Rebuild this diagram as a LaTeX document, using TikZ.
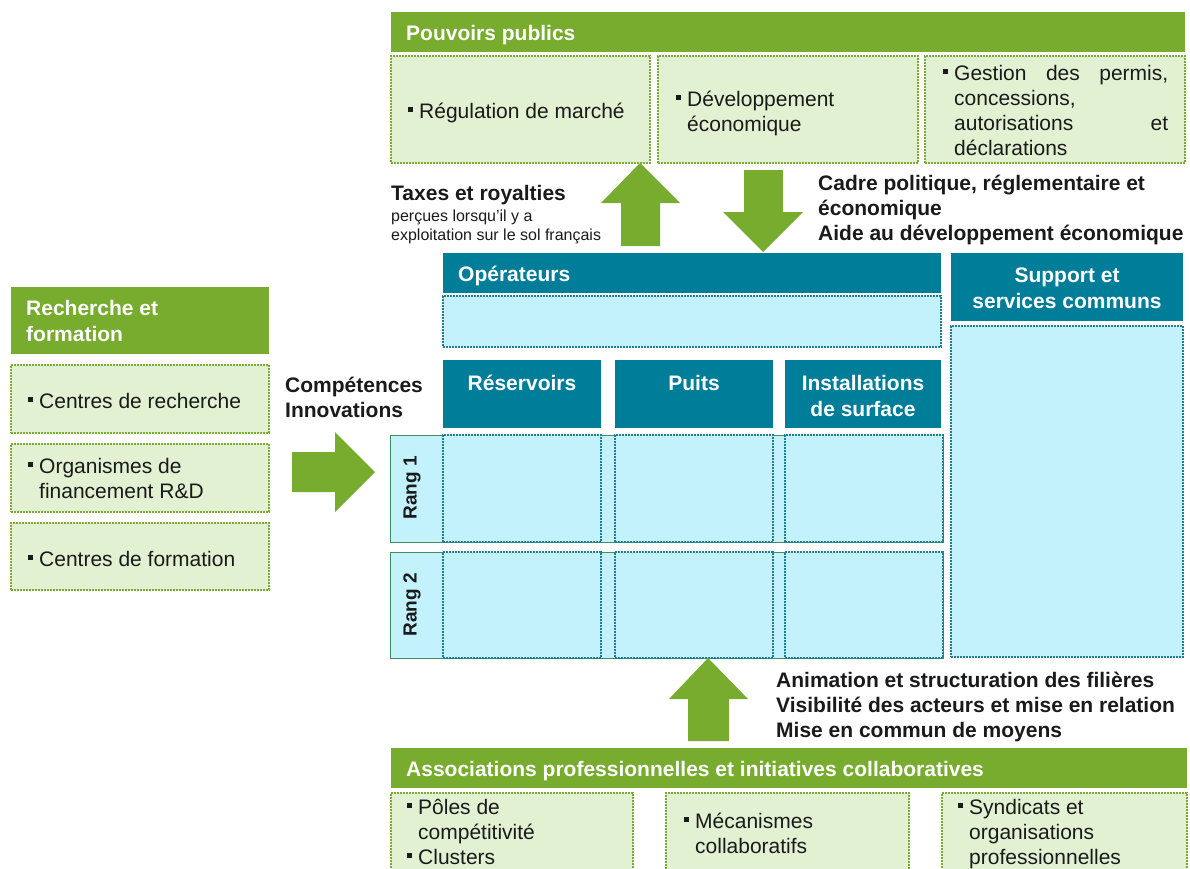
\documentclass[tikz,border=0pt]{standalone}
\usepackage{fontspec}
\setmainfont{Liberation Sans}
\definecolor{pgreen}{HTML}{77AC2F}
\definecolor{lgreen}{HTML}{E3F1D3}
\definecolor{pteal}{HTML}{007D99}
\definecolor{lcyan}{HTML}{C3F2FD}
\definecolor{dteal}{HTML}{1F7E96}
\definecolor{rgreen}{HTML}{3F8F66}
\definecolor{ink}{HTML}{1A1A1A}
\newcommand\bul{\rule[6pt]{5pt}{5pt}}
\newcommand\bt{\llap{\bul\hspace{6pt}}}
\newcommand\mlines[1]{\begin{tabular}[t]{@{}l@{}}#1\end{tabular}}
\newcommand\clines[1]{\begin{tabular}[t]{@{}c@{}}#1\end{tabular}}
\newcommand\rbox[6]{\node[#1, anchor=north west, minimum width=#4pt, minimum height=#5pt] (#6) at (#2,#3) {};}
\tikzset{
  base/.style={rectangle, inner sep=0pt, outer sep=0pt},
  greenhead/.style={base, fill=pgreen},
  greenbox/.style={base, fill=lgreen, draw=pgreen, line width=1.6pt, dash pattern=on 1.6pt off 1.4pt},
  tealhead/.style={base, fill=pteal},
  cyanbox/.style={base, fill=lcyan, draw=dteal, line width=1.6pt, dash pattern=on 1.6pt off 1.4pt},
  rangrow/.style={base, fill=lcyan, draw=rgreen, line width=1pt},
  body/.style={inner sep=0pt, text=ink, font=\fontsize{21}{25}\selectfont},
  bodyb/.style={inner sep=0pt, text=ink, font=\bfseries\fontsize{21}{25}\selectfont},
  small/.style={inner sep=0pt, text=ink, font=\fontsize{16}{19.5}\selectfont},
  headt/.style={inner sep=0pt, text=white, font=\bfseries\fontsize{21}{26}\selectfont},
  rangt/.style={inner sep=0pt, text=ink, font=\bfseries\fontsize{19}{19}\selectfont, rotate=90},
  blockarrow/.style={fill=pgreen, draw=none}
}
\begin{document}
\begin{tikzpicture}[x=1pt,y=-1pt]
\useasboundingbox (0,0) rectangle (1190,868);
\clip (0,0) rectangle (1190,868);
% Pouvoirs publics
\rbox{greenhead}{391}{12}{794}{40}{ppH}
\rbox{greenbox}{391}{56}{259}{107}{pp1}
\rbox{greenbox}{658}{56}{260}{107}{pp2}
\rbox{greenbox}{925}{56}{260}{107}{pp3}
\node[headt, anchor=base west] (ppHt) at (406,40) {Pouvoirs publics};
\node[body, anchor=base west] (pp1t) at (419,118) {\bt Régulation de marché};
\node[body, anchor=base west] (pp2t) at (687,106) {\mlines{\bt Développement\\économique}};
\node[body, anchor=base west] (pp3t) at (954,80) {\mlines{\bt\makebox[214pt][s]{Gestion des permis,}\\concessions,\\\makebox[214pt][s]{autorisations et}\\déclarations}};
% arrows top
\fill[blockarrow] (621,246) -- (621,203) -- (601,203) -- (640,163) -- (680,203) -- (660,203) -- (660,246) -- cycle;
\fill[blockarrow] (744,170) -- (783,170) -- (783,212) -- (803,212) -- (763,252) -- (723,212) -- (744,212) -- cycle;
\node[bodyb, anchor=base west] (taxt) at (391,200) {Taxes et royalties};
\node[small, anchor=base west] (taxs) at (391,221) {\mlines{perçues lorsqu'il y a\\exploitation sur le sol français}};
\node[bodyb, anchor=base west] (cadt) at (818,190) {\mlines{Cadre politique, réglementaire et\\économique\\Aide au développement économique}};
% Operateurs
\rbox{tealhead}{443}{253}{498}{40}{opH}
\rbox{cyanbox}{443}{296}{498}{51}{opB}
\node[headt, anchor=base west] (opHt) at (458,281) {Opérateurs};
\rbox{tealhead}{951}{253}{232}{68}{spH}
\rbox{cyanbox}{951}{326}{232}{331}{spB}
\node[headt, anchor=base] (spHt) at (1067,282) {\clines{Support et\\services communs}};
\rbox{tealhead}{443}{360}{158}{68}{c1H}
\rbox{tealhead}{615}{360}{158}{68}{c2H}
\rbox{tealhead}{785}{360}{156}{68}{c3H}
\node[headt, anchor=base] (c1t) at (522,390) {Réservoirs};
\node[headt, anchor=base] (c2t) at (694,390) {Puits};
\node[headt, anchor=base] (c3t) at (863,390) {\clines{Installations\\de surface}};
% rangs
\rbox{rangrow}{390}{435}{553}{107}{r1}
\rbox{rangrow}{390}{552}{553}{106}{r2}
\rbox{cyanbox}{443}{435}{158}{107}{r1a}
\rbox{cyanbox}{615}{435}{158}{107}{r1b}
\rbox{cyanbox}{785}{435}{158}{107}{r1c}
\rbox{cyanbox}{443}{552}{158}{106}{r2a}
\rbox{cyanbox}{615}{552}{158}{106}{r2b}
\rbox{cyanbox}{785}{552}{158}{106}{r2c}
\node[rangt] (r1t) at (412,488) {Rang 1};
\node[rangt] (r2t) at (412,605) {Rang 2};
% Recherche et formation
\rbox{greenhead}{11}{287}{258}{67}{rfH}
\rbox{greenbox}{11}{365}{258}{68}{rf1}
\rbox{greenbox}{11}{444}{258}{68}{rf2}
\rbox{greenbox}{11}{523}{258}{67}{rf3}
\node[headt, anchor=base west] (rfHt) at (26,315) {\mlines{Recherche et\\formation}};
\node[body, anchor=base west] (rf1t) at (39,408) {\bt Centres de recherche};
\node[body, anchor=base west] (rf2t) at (39,473) {\mlines{\bt Organismes de\\financement R\&D}};
\node[body, anchor=base west] (rf3t) at (39,566) {\bt Centres de formation};
\fill[blockarrow] (292,452) -- (335,452) -- (335,432) -- (375,472) -- (335,512) -- (335,492) -- (292,492) -- cycle;
\node[bodyb, anchor=base west] (cmpt) at (285,392) {\mlines{Compétences\\Innovations}};
% Associations
\fill[blockarrow] (688,741) -- (688,699) -- (669,699) -- (708,658) -- (748,699) -- (729,699) -- (729,741) -- cycle;
\node[bodyb, anchor=base west] (anit) at (776,687) {\mlines{Animation et structuration des filières\\Visibilité des acteurs et mise en relation\\Mise en commun de moyens}};
\rbox{greenhead}{391}{748}{796}{40}{asH}
\rbox{greenbox}{391}{793}{242}{100}{as1}
\rbox{greenbox}{666}{793}{243}{100}{as2}
\rbox{greenbox}{942}{793}{245}{100}{as3}
\node[headt, anchor=base west] (asHt) at (406,776) {Associations professionnelles et initiatives collaboratives};
\node[body, anchor=base west] (as1t) at (418,814) {\mlines{\bt Pôles de\\compétitivité\\\bt Clusters}};
\node[body, anchor=base west] (as2t) at (695,828) {\mlines{\bt Mécanismes\\collaboratifs}};
\node[body, anchor=base west] (as3t) at (969,814) {\mlines{\bt Syndicats et\\organisations\\professionnelles}};
\end{tikzpicture}
\end{document}
